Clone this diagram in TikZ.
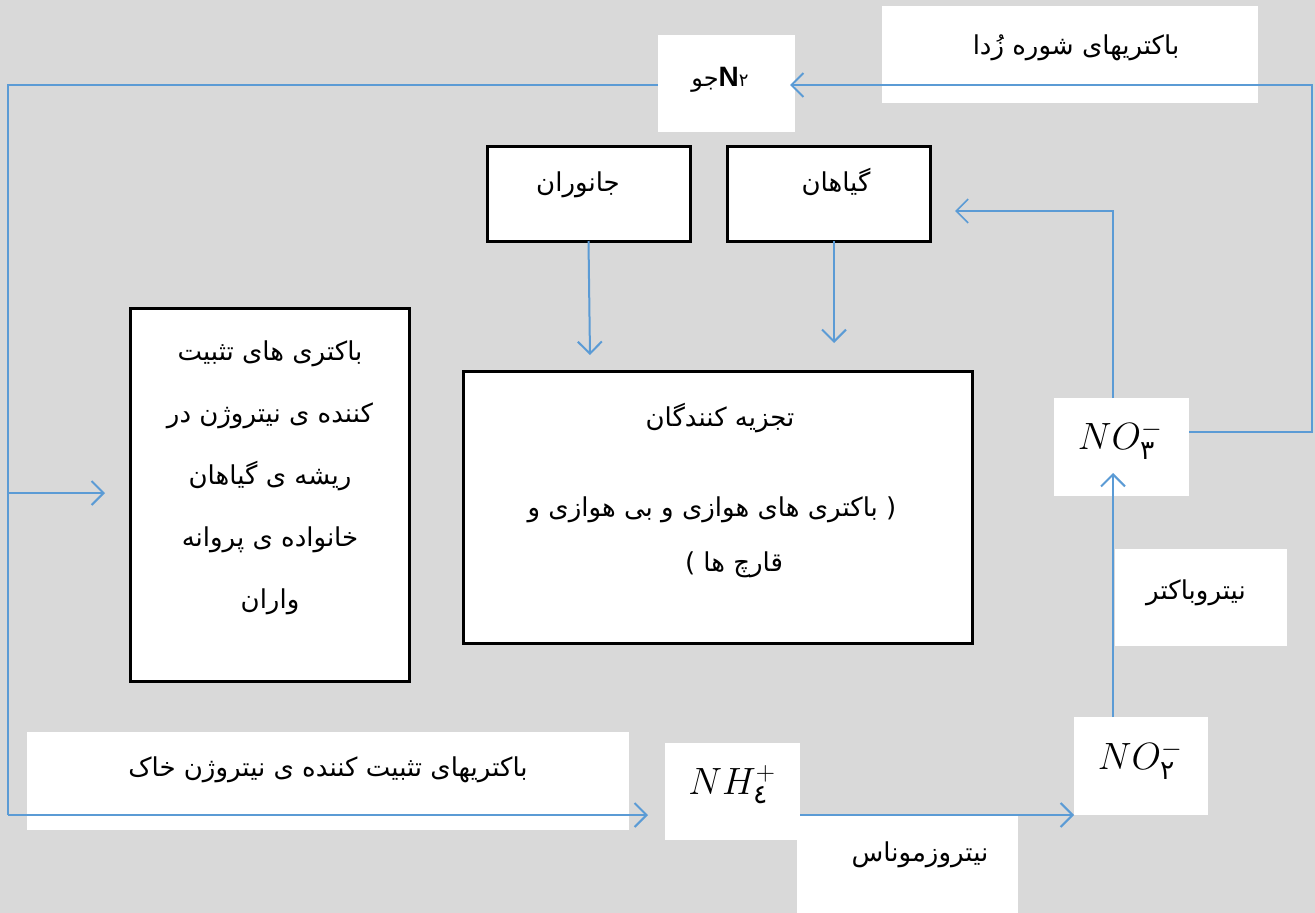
\RequirePackage{fix-cm}
\documentclass[tikz,border=0pt]{standalone}
\usepackage{fontspec}
\usepackage{amsmath}
\usetikzlibrary{arrows.meta}
\TeXXeTstate=1
\newfontfamily\fa[Script=Arabic]{DejaVu Sans}
\newfontfamily\arialf{Liberation Sans}
\definecolor{bgc}{HTML}{D9D9D9}
\definecolor{lb}{HTML}{5B9BD5}
\begin{document}
\begin{tikzpicture}[x=1pt,y=-1pt,
  wbox/.style={fill=white, draw=none, inner sep=0pt, outer sep=0pt},
  bbox/.style={fill=white, draw=black, line width=3pt, inner sep=0pt, outer sep=0pt},
  fatxt/.style={font=\fa\fontsize{26}{30}\selectfont, inner sep=0pt},
  mtxt/.style={font=\fontsize{38}{40}\selectfont, inner sep=0pt},
  thinl/.style={draw=lb, line width=1.2pt},
  thickl/.style={draw=lb, line width=2pt},
  arr/.style={thickl, -{Straight Barb[length=12pt,width=24pt]}}]
\fill[bgc] (0,0) rectangle (1315,913);
\useasboundingbox (0,0) rectangle (1315,913);

% boxes
\node[wbox, minimum width=137pt, minimum height=97pt] (n2) at (726.5,83.5) {};
\node[wbox, minimum width=376pt, minimum height=97pt] (shore) at (1070,54.5) {};
\node[bbox, minimum width=203pt, minimum height=95pt] (janv) at (588.5,193.5) {};
\node[bbox, minimum width=203pt, minimum height=95pt] (giah) at (828.5,193.5) {};
\node[bbox, minimum width=279pt, minimum height=373pt] (left) at (269.5,494.5) {};
\node[bbox, minimum width=509pt, minimum height=272pt] (decomp) at (717.5,507) {};
\node[wbox, minimum width=135pt, minimum height=98pt] (no3) at (1121.5,447) {};
\node[wbox, minimum width=172pt, minimum height=97pt] (nitrob) at (1201,597.5) {};
\node[wbox, minimum width=134pt, minimum height=98pt] (no2) at (1141,766) {};
\node[wbox, minimum width=135pt, minimum height=97pt] (nh4) at (732.5,791.5) {};
\node[wbox, minimum width=221pt, minimum height=98pt] (nitroz) at (907.5,864) {};
\node[wbox, minimum width=602pt, minimum height=98pt] (soil) at (328,781) {};

% texts
\node[inner sep=0pt] (t-n2) at (720,80) {{\fa\fontsize{24}{28}\selectfont\beginR جو\endR}{\arialf\bfseries\fontsize{28}{30}\selectfont N}{\fa\fontsize{18}{24}\selectfont ۲}};
\node[fatxt] (t-shore) at (1076,48) {\beginR باکتریهای شوره زُدا\endR};
\node[fatxt] (t-janv) at (578,185) {\beginR جانوران\endR};
\node[fatxt] (t-giah) at (836,182) {\beginR گیاهان\endR};
\node[fatxt, align=center, font=\fa\fontsize{26}{62}\selectfont] (t-left) at (270,478)
  {\beginR باکتری های تثبیت\endR\\ \beginR کننده ی نیتروژن در\endR\\ \beginR ریشه ی گیاهان\endR\\ \beginR خانواده ی پروانه\endR\\ \beginR واران\endR};
\node[fatxt] (t-dec1) at (720,418) {\beginR تجزیه کنندگان\endR};
\node[fatxt] (t-dec2) at (712,510) {\beginR باکتری های هوازی و بی هوازی و\endR\ (};
\node[fatxt] (t-dec3) at (734,565) {)\ \beginR قارچ ها\endR};
\node[mtxt] (t-no3) at (1120,440) {$NO_{\text{\fa ۳}}^{-}$};
\node[mtxt] (t-no2) at (1140,760) {$NO_{\text{\fa ۲}}^{-}$};
\node[mtxt] (t-nh4) at (732,785) {$NH_{\text{\fa ٤}}^{+}$};
\node[fatxt] (t-nitrob) at (1196,593) {\beginR نیتروباکتر\endR};
\node[fatxt] (t-nitroz) at (920,855) {\beginR نیتروزموناس\endR};
\node[fatxt] (t-soil) at (328,770) {\beginR باکتریهای تثبیت کننده ی نیتروژن خاک\endR};

% connector helper coordinates
\coordinate (cR) at (1312,85);
\coordinate (cRt) at (1268,85);
\coordinate (cL) at (8,85);
\coordinate (cLb) at (8,815);
\coordinate (cLm) at (8,493);
\coordinate (aJ) at (590,355);
\coordinate (aG) at (834,343);
\coordinate (cG) at (955,211);
\coordinate (aN3) at (1113,473);

% connectors
\draw[thinl] (no3.east |- 0,432) -| (cR) -- (cRt);
\draw[arr, shorten >=-5pt] (cRt) -- (cRt -| n2.east);
\draw[thinl] (n2.west |- cL) -- (cL) -- (cLb);
\draw[arr, shorten >=17pt] (cLb) -- (cLb -| nh4.west);
\draw[arr, shorten >=25pt] (cLm) -- (cLm -| left.west);
\draw[arr] (janv.south) -- (aJ);
\draw[arr] ([xshift=5.5pt]giah.south) -- (aG);
\draw[arr, line width=1.6pt] ([xshift=-8.5pt]no3.north) |- (cG);
\draw[arr] ([xshift=-28pt]no2.north) -- (aN3);
\draw[arr] (nh4.east |- 0,815) -- (no2.south west);
\end{tikzpicture}
\end{document}
